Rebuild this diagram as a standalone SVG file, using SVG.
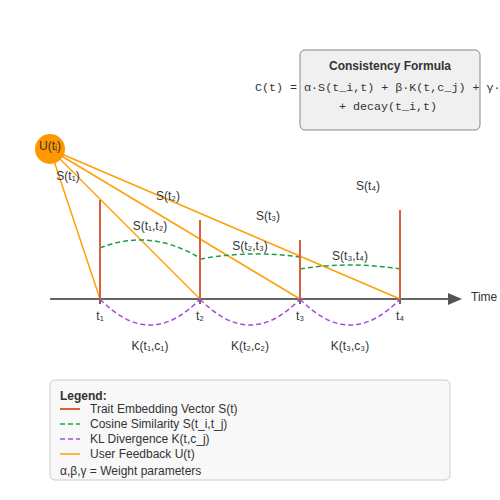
<svg xmlns="http://www.w3.org/2000/svg" width="500" height="500" viewBox="0 0 500 500">
<defs>
<style>
text{font-family:"Liberation Sans",Arial,sans-serif;font-size:12px;fill:#333}
.mono{font-family:"Liberation Mono","Courier New",monospace;font-size:11.7px}
.mid{text-anchor:middle}
.bold{font-weight:bold}
.vec{stroke:#d9603b;stroke-width:2;fill:none}
.cos{stroke:#1e9e4a;stroke-width:1.5;stroke-dasharray:5,3;fill:none}
.kl{stroke:#a24ddb;stroke-width:1.5;stroke-dasharray:5,3;fill:none}
.fb{stroke:#ff9f0a;stroke-width:1.5;fill:none}
.axis{stroke:#666;stroke-width:2}
</style>
</defs>
<rect width="500" height="500" fill="#fff"/>

<g id="formula">
<rect x="300" y="50" width="180" height="80" rx="5" fill="#f0f0f0" stroke="#888" stroke-width="1"/>
<text x="390" y="70" class="mid bold">Consistency Formula</text>
<text x="255" y="91" class="mono">C(t) = α·S(t_i,t) + β·K(t,c_j) + γ·U(t)</text>
<text x="388" y="110" class="mono mid">+ decay(t_i,t)</text>
</g>

<g id="axis">
<line x1="50" y1="299" x2="450" y2="299" class="axis"/>
<path d="M448,293 L462,299 L448,305 Z" fill="#555"/>
<text x="471" y="301">Time</text>
<g stroke="#666" stroke-width="2">
<line x1="100" y1="299" x2="100" y2="304"/>
<line x1="200" y1="299" x2="200" y2="304"/>
<line x1="300" y1="299" x2="300" y2="304"/>
<line x1="400" y1="299" x2="400" y2="304"/>
</g>
<text x="100" y="320" class="mid">t₁</text>
<text x="200" y="320" class="mid">t₂</text>
<text x="300" y="320" class="mid">t₃</text>
<text x="400" y="320" class="mid">t₄</text>
</g>

<g id="connectors">
<line x1="50" y1="149" x2="100" y2="299" class="fb"/>
<line x1="50" y1="149" x2="200" y2="299" class="fb"/>
<line x1="50" y1="149" x2="300" y2="299" class="fb"/>
<line x1="50" y1="149" x2="400" y2="299" class="fb"/>
<path d="M100,248 Q150,228 200,258" class="cos"/>
<path d="M200,259 Q250,250 300,257" class="cos"/>
<path d="M300,269 Q350,261 400,269" class="cos"/>
<path d="M100,299 Q150,351 200,299" class="kl"/>
<path d="M200,299 Q250,351 300,299" class="kl"/>
<path d="M300,299 Q350,351 400,299" class="kl"/>
</g>

<g id="vectors">
<line x1="100" y1="200" x2="100" y2="299" class="vec"/>
<line x1="200" y1="220" x2="200" y2="299" class="vec"/>
<line x1="300" y1="240" x2="300" y2="299" class="vec"/>
<line x1="400" y1="210" x2="400" y2="299" class="vec"/>
<text x="68" y="180" class="mid">S(t₁)</text>
<text x="168" y="200" class="mid">S(t₂)</text>
<text x="268" y="220" class="mid">S(t₃)</text>
<text x="368" y="190" class="mid">S(t₄)</text>
</g>

<g id="similarity-labels">
<text x="150" y="230" class="mid">S(t₁,t₂)</text>
<text x="250" y="250" class="mid">S(t₂,t₃)</text>
<text x="350" y="260" class="mid">S(t₃,t₄)</text>
</g>

<g id="kl-labels">
<text x="150" y="350" class="mid">K(t₁,c₁)</text>
<text x="250" y="350" class="mid">K(t₂,c₂)</text>
<text x="350" y="350" class="mid">K(t₃,c₃)</text>
</g>

<g id="user-feedback">
<circle cx="50" cy="149" r="15" fill="#ff9800"/>
<text x="50" y="150" class="mid">U(tᵢ)</text>
</g>

<g id="legend">
<rect x="50" y="380" width="400" height="100" rx="5" fill="#f8f8f8" stroke="#ccc" stroke-width="1"/>
<text x="60" y="400" class="bold">Legend:</text>
<line x1="60" y1="409" x2="80" y2="409" class="vec"/>
<text x="90" y="413">Trait Embedding Vector S(t)</text>
<line x1="60" y1="424" x2="80" y2="424" class="cos" stroke-dasharray="3,3"/>
<text x="90" y="428">Cosine Similarity S(t_i,t_j)</text>
<line x1="60" y1="439" x2="80" y2="439" class="kl" stroke-dasharray="3,3"/>
<text x="90" y="443">KL Divergence K(t,c_j)</text>
<line x1="60" y1="454" x2="80" y2="454" class="fb"/>
<text x="90" y="458">User Feedback U(t)</text>
<text x="60" y="475">α,β,γ = Weight parameters</text>
</g>
</svg>
